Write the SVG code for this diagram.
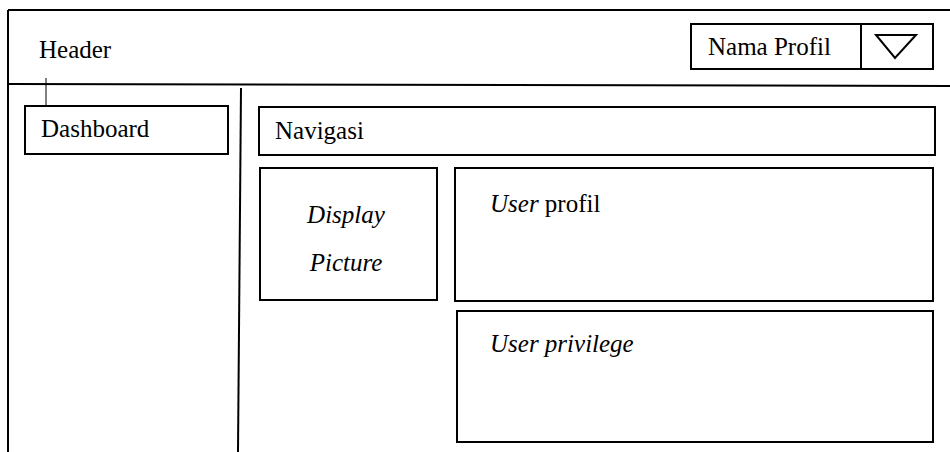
<svg xmlns="http://www.w3.org/2000/svg" width="950" height="452" viewBox="0 0 950 452">
<style>
.box{fill:#fff;stroke:#000;stroke-width:2}
.ln{fill:none;stroke:#000;stroke-width:2}
.t{font-family:'Liberation Serif','Times New Roman',serif;font-size:25px;fill:#000}
.i{font-style:italic}
</style>
<rect width="950" height="452" fill="#fff"/>
<g id="frame">
<line class="ln" x1="8" y1="10" x2="950" y2="10"/>
<line class="ln" x1="8" y1="10" x2="8" y2="452"/>
<line class="ln" x1="8" y1="84" x2="950" y2="86"/>
<line class="ln" x1="241" y1="88" x2="238" y2="452"/>
<text class="t" x="39" y="58">Header</text>
</g>
<g id="profile-dropdown">
<rect class="box" x="691" y="24" width="242" height="45"/>
<line class="ln" x1="861" y1="24" x2="861" y2="69"/>
<polygon class="ln" points="876,35 916,35 895,58"/>
<text class="t" x="708" y="55">Nama Profil</text>
</g>
<g id="connectors">
<line x1="46" y1="78" x2="46" y2="105" stroke="#000" stroke-width="1"/>
</g>
<g id="dashboard">
<rect class="box" x="25" y="106" width="203" height="48"/>
<text class="t" x="41" y="137">Dashboard</text>
</g>
<g id="navigasi">
<rect class="box" x="259" y="107" width="676" height="48"/>
<text class="t" x="275" y="139">Navigasi</text>
</g>
<g id="display-picture">
<rect class="box" x="260" y="168" width="177" height="132"/>
<text class="t i" x="346" y="223" text-anchor="middle">Display</text>
<text class="t i" x="346" y="271" text-anchor="middle">Picture</text>
</g>
<g id="user-profil">
<rect class="box" x="455" y="168" width="478" height="133"/>
<text class="t" x="490" y="212"><tspan class="i">User</tspan> profil</text>
</g>
<g id="user-privilege">
<rect class="box" x="457" y="311" width="476" height="131"/>
<text class="t i" x="490" y="352">User privilege</text>
</g>
</svg>
